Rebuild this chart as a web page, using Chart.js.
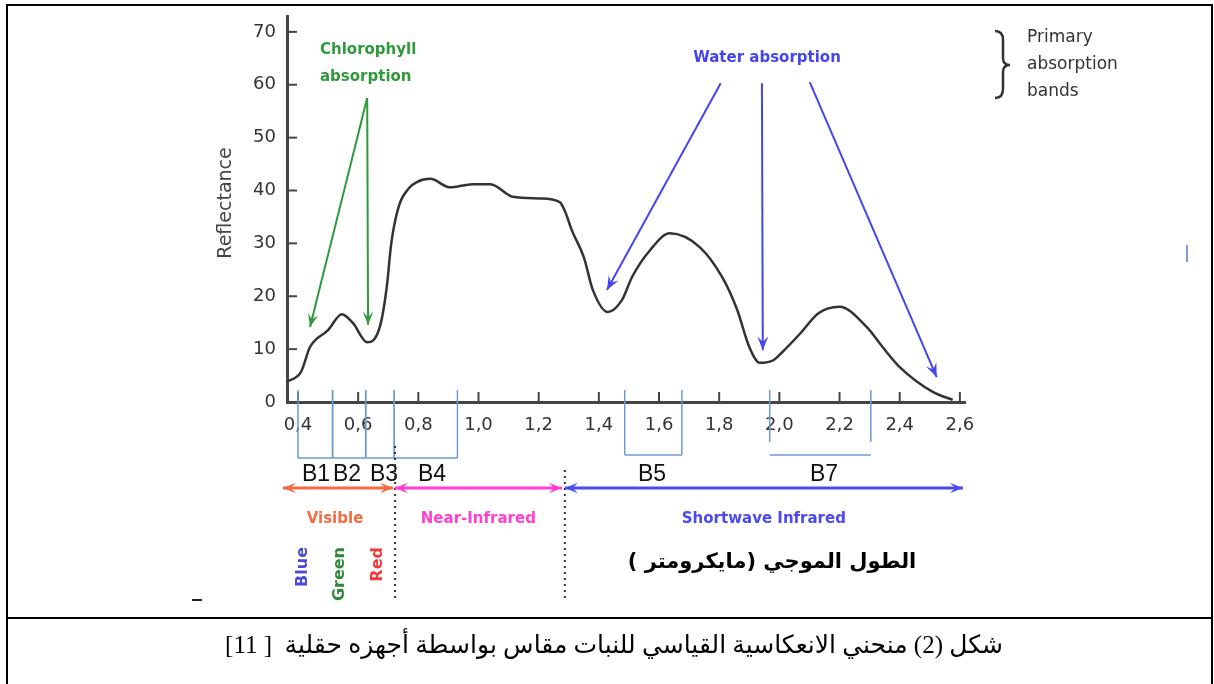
<!DOCTYPE html>
<html>
<head>
<meta charset="utf-8">
<script src="https://cdn.jsdelivr.net/npm/chart.js@4.4.1/dist/chart.umd.min.js"></script>
<style>
  html, body { margin: 0; padding: 0; background: #fff; }
</style>
</head>
<body>
<canvas id="spectrum" width="1214" height="684"></canvas>
<script>
// reflectance curve of green vegetation
const wavelength = [0.363, 0.41, 0.44, 0.50, 0.546, 0.583, 0.63, 0.672, 0.695, 0.71, 0.735, 0.77, 0.795, 0.84, 0.905, 0.98, 1.04, 1.114, 1.204, 1.27, 1.29, 1.31, 1.35, 1.38, 1.43, 1.477, 1.51, 1.57, 1.636, 1.735, 1.81, 1.86, 1.90, 1.935, 1.98, 2.011, 2.07, 2.13, 2.20, 2.29, 2.343, 2.40, 2.51, 2.576]
const reflectance = [3.8, 5.7, 10.4, 13.6, 16.6, 14.9, 11.3, 14.2, 21.7, 30, 37.0, 40.5, 41.6, 42.2, 40.6, 41.2, 41.2, 38.8, 38.5, 37.8, 35.7, 32.5, 27.4, 21.2, 17.0, 19.3, 23.6, 28.7, 31.9, 29.3, 23.6, 17.4, 10.4, 7.4, 7.9, 9.5, 13.0, 16.8, 18.0, 14.2, 10.4, 6.6, 1.9, 0.4]

const xTicks = [0.4, 0.6, 0.8, 1.0, 1.2, 1.4, 1.6, 1.8, 2.0, 2.2, 2.4, 2.6]
const yTicks = [0, 10, 20, 30, 40, 50, 60, 70]

// sensor bands (micrometres)
const bandNames = ['B1', 'B2', 'B3', 'B4', 'B5', 'B7']
const bandFrom = [0.40, 0.515, 0.625, 0.72, 1.486, 1.968]
const bandTo = [0.515, 0.625, 0.72, 0.93, 1.676, 2.304]

// spectral regions
const regionNames = ['Visible', 'Near-Infrared', 'Shortwave Infrared']
const regionFrom = [0.35, 0.722, 1.287]
const regionTo = [0.716, 1.277, 2.61]

// absorption arrows: [wavelength, reflectance]
const chlorophyllFrom = [0.63, 57.5]
const chlorophyllTo = [[0.44, 14.2], [0.633, 14.6]]
const waterFrom = [[1.805, 60.3], [1.942, 60.3], [2.101, 60.5]]
const waterTo = [[1.427, 21.2], [1.945, 9.8], [2.523, 4.7]]

const caption = 'شكل (2) منحني الانعكاسية القياسي للنبات مقاس بواسطة أجهزه حقلية  [ 11]'
const xTitle = 'الطول الموجي (مايكرومتر )'

function arrowHead(ctx, x1, y1, x2, y2, head) {
  const a = Math.atan2(y2 - y1, x2 - x1)
  ctx.beginPath()
  ctx.moveTo(x2, y2)
  ctx.lineTo(x2 - head * Math.cos(a - 0.38), y2 - head * Math.sin(a - 0.38))
  ctx.lineTo(x2 - head * 0.55 * Math.cos(a), y2 - head * 0.55 * Math.sin(a))
  ctx.lineTo(x2 - head * Math.cos(a + 0.38), y2 - head * Math.sin(a + 0.38))
  ctx.closePath()
  ctx.fill()
}

function arrow(ctx, x1, y1, x2, y2, color, lw, head) {
  ctx.strokeStyle = color
  ctx.fillStyle = color
  ctx.lineWidth = lw
  ctx.beginPath()
  ctx.moveTo(x1, y1)
  ctx.lineTo(x2, y2)
  ctx.stroke()
  arrowHead(ctx, x1, y1, x2, y2, head)
}

function text(ctx, str, x, y, font, color, align = 'center') {
  ctx.font = font
  ctx.fillStyle = color
  ctx.textAlign = align
  ctx.textBaseline = 'middle'
  ctx.fillText(str, x, y)
}

const decorations = {
  id: 'decorations',
  beforeDraw(chart) {
    const ctx = chart.ctx
    ctx.save()
    ctx.fillStyle = '#fff'
    ctx.fillRect(0, 0, chart.width, chart.height)
    ctx.restore()
  },
  afterDraw(chart) {
    const ctx = chart.ctx
    const sx = chart.scales.x
    const sy = chart.scales.y
    const X = v => sx.getPixelForValue(v)
    const Y = v => sy.getPixelForValue(v)
    const area = chart.chartArea
    ctx.save()

    // inward tick marks
    ctx.strokeStyle = '#444'
    ctx.lineWidth = 2
    yTicks.forEach(v => {
      ctx.beginPath()
      ctx.moveTo(area.left, Y(v))
      ctx.lineTo(area.left + 10, Y(v))
      ctx.stroke()
    })
    xTicks.forEach(v => {
      ctx.beginPath()
      ctx.moveTo(X(v), area.bottom)
      ctx.lineTo(X(v), area.bottom - 10)
      ctx.stroke()
    })

    // y title
    ctx.save()
    ctx.translate(226, 203)
    ctx.rotate(-Math.PI / 2)
    text(ctx, 'Reflectance', 0, 0, '19px "DejaVu Sans"', '#444')
    ctx.restore()

    // chlorophyll absorption
    text(ctx, 'Chlorophyll', 320, 50, 'bold 15px "DejaVu Sans"', '#2f9a3c', 'left')
    text(ctx, 'absorption', 320, 77, 'bold 15px "DejaVu Sans"', '#2f9a3c', 'left')
    chlorophyllTo.forEach(t => {
      arrow(ctx, X(chlorophyllFrom[0]), Y(chlorophyllFrom[1]), X(t[0]), Y(t[1]), '#2f9a3c', 2, 14)
    })

    // water absorption
    text(ctx, 'Water absorption', 767, 58, 'bold 15px "DejaVu Sans"', '#4545ee')
    waterTo.forEach((t, i) => {
      arrow(ctx, X(waterFrom[i][0]), Y(waterFrom[i][1]), X(t[0]), Y(t[1]), '#4545ee', 2, 15)
    })

    // primary absorption bands legend
    ctx.strokeStyle = '#333'
    ctx.lineWidth = 2.5
    ctx.beginPath()
    ctx.moveTo(995, 31)
    ctx.quadraticCurveTo(1003, 31, 1003, 40)
    ctx.lineTo(1003, 58)
    ctx.quadraticCurveTo(1003, 65, 1010, 65)
    ctx.quadraticCurveTo(1003, 65, 1003, 72)
    ctx.lineTo(1003, 89)
    ctx.quadraticCurveTo(1003, 98, 995, 98)
    ctx.stroke()
    ;['Primary', 'absorption', 'bands'].forEach((s, i) => {
      text(ctx, s, 1027, 38 + i * 27, '17px "DejaVu Sans"', '#333', 'left')
    })

    // band boxes
    ctx.strokeStyle = '#6f9bd0'
    ctx.lineWidth = 1.5
    const boxBottom = area.bottom + 56
    bandNames.forEach((b, i) => {
      const l = X(bandFrom[i])
      const r = X(bandTo[i])
      const bottom = b === 'B5' ? area.bottom + 53 : (b === 'B7' ? area.bottom + 40 : boxBottom)
      ctx.beginPath()
      ctx.moveTo(l, area.bottom - 12)
      ctx.lineTo(l, bottom)
      ctx.moveTo(r, area.bottom - 12)
      ctx.lineTo(r, bottom)
      if (b !== 'B7') {
        ctx.moveTo(l, bottom)
        ctx.lineTo(r, bottom)
      } else {
        ctx.moveTo(l, area.bottom + 53)
        ctx.lineTo(r, area.bottom + 53)
      }
      ctx.stroke()
    })
    const labelX = [316, 347, 384, 432, 652, 824]
    bandNames.forEach((b, i) => {
      text(ctx, b, labelX[i], area.bottom + 73, '23px "Liberation Sans"', '#111')
    })

    // region separators
    ctx.save()
    ctx.strokeStyle = '#333'
    ctx.lineWidth = 2
    ctx.setLineDash([2, 4])
    ctx.beginPath()
    ctx.moveTo(X(regionTo[0]) + 2, area.bottom + 44)
    ctx.lineTo(X(regionTo[0]) + 2, 602)
    ctx.moveTo(X(regionTo[1]) + 3, area.bottom + 68)
    ctx.lineTo(X(regionTo[1]) + 3, 602)
    ctx.stroke()
    ctx.restore()

    // region arrows
    const regionColors = ['#f26b43', '#ff3fd0', '#4a4af0']
    const ay = area.bottom + 86
    regionNames.forEach((n, i) => {
      const l = X(regionFrom[i])
      const r = X(regionTo[i])
      arrow(ctx, l, ay, r, ay, regionColors[i], 3, 14)
      arrowHead(ctx, r, ay, l, ay, 14)
      text(ctx, n, (l + r) / 2 + [-3, 0, 0][i], area.bottom + 117, 'bold 15px "DejaVu Sans"', regionColors[i])
    })

    // colour names under the visible band
    ctx.save()
    ctx.beginPath()
    ctx.rect(0, 0, chart.width, 603)
    ctx.clip()
    ;[['Blue', 303, '#4a4ad6'], ['Green', 340, '#2f8a3a'], ['Red', 378, '#f03a3a']].forEach(c => {
      ctx.save()
      ctx.translate(c[1], 547)
      ctx.rotate(-Math.PI / 2)
      text(ctx, c[0], 0, 0, 'bold 16px "DejaVu Sans"', c[2], 'right')
      ctx.restore()
    })
    ctx.restore()

    // arabic axis title
    ctx.direction = 'rtl'
    text(ctx, xTitle, 772, 563, 'bold 21px "DejaVu Sans"', '#000')

    // caption
    text(ctx, caption, 614, 646, '25px "Liberation Serif", "DejaVu Sans"', '#000')
    ctx.direction = 'ltr'

    // stray marks from the scan
    ctx.fillStyle = '#222'
    ctx.fillRect(192, 599, 10, 2)
    ctx.fillStyle = '#7d9ccc'
    ctx.fillRect(1186, 245, 2, 17)

    // frame
    ctx.strokeStyle = '#000'
    ctx.lineWidth = 2
    ctx.beginPath()
    ctx.moveTo(7, 684)
    ctx.lineTo(7, 5)
    ctx.lineTo(1212, 5)
    ctx.lineTo(1212, 684)
    ctx.moveTo(7, 618)
    ctx.lineTo(1212, 618)
    ctx.stroke()

    ctx.restore()
  }
}

const tickFont = { family: 'DejaVu Sans', size: 18 }

new Chart(document.getElementById('spectrum'), {
  type: 'line',
  data: {
    datasets: [{
      data: wavelength.map((w, i) => ({ x: w, y: reflectance[i] })),
      borderColor: '#333',
      borderWidth: 2.5,
      pointRadius: 0,
      cubicInterpolationMode: 'monotone',
      fill: false
    }]
  },
  options: {
    responsive: false,
    animation: false,
    devicePixelRatio: 1,
    layout: { padding: { left: 0, top: 16, right: 249, bottom: 242 } },
    plugins: { legend: { display: false }, tooltip: { enabled: false } },
    scales: {
      x: {
        type: 'linear',
        min: 0.3635,
        max: 2.617,
        afterBuildTicks: s => { s.ticks = xTicks.map(v => ({ value: v })) },
        afterFit: s => { s.height = 40 },
        grid: { display: false },
        border: { display: true, color: '#444', width: 3 },
        ticks: {
          padding: 5,
          color: '#333',
          font: tickFont,
          maxRotation: 0,
          callback: v => v.toFixed(1).replace('.', ',')
        }
      },
      y: {
        min: 0,
        max: 73,
        afterBuildTicks: s => { s.ticks = yTicks.map(v => ({ value: v })) },
        afterFit: s => { s.width = 287 },
        grid: { display: false },
        border: { display: true, color: '#444', width: 3 },
        ticks: { padding: 3, color: '#333', font: tickFont }
      }
    }
  },
  plugins: [decorations]
})
</script>
</body>
</html>
